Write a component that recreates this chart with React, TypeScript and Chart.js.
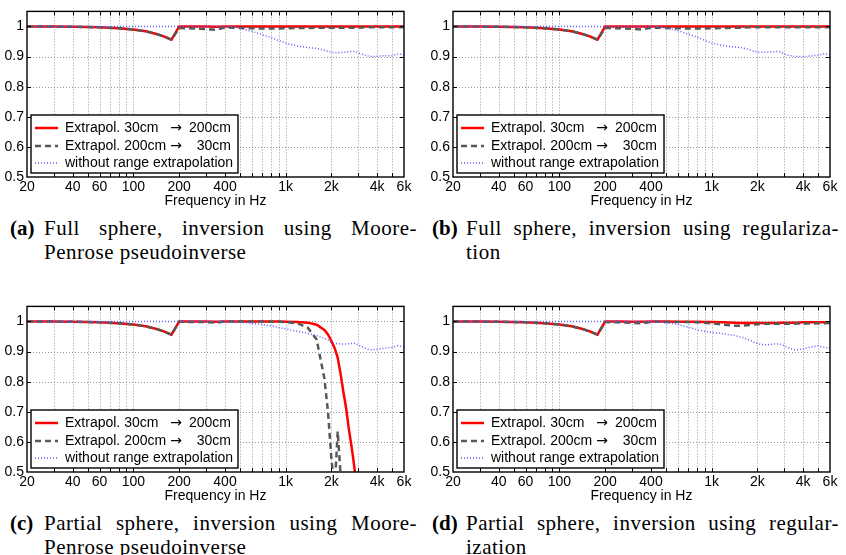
import React, { useEffect, useRef } from 'react';
import { Chart, registerables } from 'chart.js';

Chart.register(...registerables);

// Frequency grid shared by every curve (Hz)
const freqHz = [
  20, 30, 40, 50, 60, 80, 100, 120, 140, 160, 178, 200, 250, 300, 350, 400, 450, 500, 600, 700,
  800, 900, 1000, 1200, 1400, 1600, 1800, 1900, 2000, 2100, 2200, 2300, 2400, 2500, 2600, 2700,
  2800, 2900, 3000, 3300, 3600, 4000, 4500, 5000, 5500, 6000,
];

const xMin = 20;
const xMax = 6000;
const yMin = 0.5;
const yMax = 1.05;

// Grid / tick positions on the frequency axis and their printed labels
const xGridHz = [20, 30, 40, 50, 60, 70, 80, 90, 100, 200, 300, 400, 500, 600, 700, 800, 900, 1000, 2000, 3000, 4000, 5000, 6000];
const xTickText: Record<number, string> = {
  20: '20', 40: '40', 60: '60', 100: '100', 200: '200', 400: '400',
  1000: '1k', 2000: '2k', 4000: '4k', 6000: '6k',
};
const yGrid = [0.5, 0.6, 0.7, 0.8, 0.9, 1];

const seriesNames = ['Extrapol. 30cm → 200cm', 'Extrapol. 200cm → 30cm', 'without range extrapolation'];
const axisTitle = 'Frequency in Hz';

// (a) full sphere, Moore-Penrose pseudoinverse
const fullPinvNearToFar = [
  1.000, 0.9995, 0.999, 0.998, 0.997, 0.994, 0.990, 0.984, 0.976, 0.966, 0.956,
  1.000, 1.000, 1.000, 0.999, 1.000, 1.000, 1.000, 1.000, 1.000, 1.000, 1.000, 1.000, 1.000, 1.000,
  1.000, 1.000, 1.000, 1.000, 1.000, 1.000, 1.000, 1.000, 1.000, 1.000, 1.000, 1.000, 1.000, 1.000,
  1.000, 1.000, 1.000, 1.000, 1.000, 1.000, 1.000,
];
const fullPinvFarToNear = [
  1.000, 0.9995, 0.999, 0.998, 0.997, 0.994, 0.990, 0.984, 0.976, 0.966, 0.956,
  0.995, 0.993, 0.991, 0.989, 0.997, 0.996, 0.995, 0.994, 0.993, 0.993, 0.993, 0.994, 0.995, 0.995,
  0.996, 0.996, 0.996, 0.996, 0.996, 0.996, 0.996, 0.996, 0.996, 0.996, 0.996, 0.996, 0.996, 0.996,
  0.997, 0.997, 0.997, 0.997, 0.997, 0.997, 0.997,
];
const fullPinvPlain = [
  1.000, 1.000, 1.000, 1.000, 1.000, 1.000, 1.000, 1.000, 1.000, 1.000, 1.000,
  1.000, 1.000, 1.000, 1.000, 1.000, 0.999, 0.994, 0.984, 0.973, 0.963, 0.953, 0.945, 0.935, 0.930,
  0.927, 0.921, 0.917, 0.914, 0.913, 0.913, 0.913, 0.914, 0.915, 0.916, 0.917, 0.917, 0.916, 0.912,
  0.905, 0.900, 0.901, 0.903, 0.903, 0.909, 0.906,
];

// (b) full sphere, regularization
const fullRegNearToFar = [
  1.000, 0.9995, 0.999, 0.998, 0.997, 0.994, 0.990, 0.984, 0.976, 0.966, 0.956,
  1.000, 1.000, 1.000, 1.000, 1.000, 1.000, 1.000, 1.000, 1.000, 1.000, 1.000, 1.000, 1.000, 1.000,
  1.000, 1.000, 1.000, 1.000, 1.000, 1.000, 1.000, 1.000, 1.000, 1.000, 1.000, 1.000, 1.000, 1.000,
  1.000, 1.000, 1.000, 1.000, 1.000, 1.000, 1.000,
];
const fullRegFarToNear = [
  1.000, 0.9995, 0.999, 0.998, 0.997, 0.994, 0.990, 0.984, 0.976, 0.966, 0.956,
  0.995, 0.994, 0.992, 0.990, 0.996, 0.996, 0.995, 0.994, 0.993, 0.993, 0.993, 0.994, 0.995, 0.996,
  0.996, 0.997, 0.997, 0.997, 0.997, 0.997, 0.997, 0.997, 0.997, 0.997, 0.997, 0.997, 0.997, 0.997,
  0.997, 0.997, 0.997, 0.997, 0.997, 0.997, 0.997,
];
const fullRegPlain = [
  1.000, 1.000, 1.000, 1.000, 1.000, 1.000, 1.000, 1.000, 1.000, 1.000, 1.000,
  1.000, 1.000, 1.000, 1.000, 1.000, 0.999, 0.995, 0.986, 0.975, 0.965, 0.954, 0.945, 0.936, 0.932,
  0.929, 0.922, 0.918, 0.915, 0.914, 0.914, 0.915, 0.915, 0.916, 0.916, 0.917, 0.916, 0.913, 0.908,
  0.903, 0.900, 0.900, 0.902, 0.905, 0.909, 0.907,
];

// (c) partial sphere, Moore-Penrose pseudoinverse
const partPinvNearToFar = [
  1.000, 0.9995, 0.999, 0.998, 0.997, 0.994, 0.990, 0.984, 0.976, 0.966, 0.956,
  1.000, 1.000, 1.000, 0.999, 1.000, 1.000, 1.000, 1.000, 1.000, 1.000, 1.000, 0.999, 0.998, 0.996,
  0.989, 0.972, 0.957, 0.935, 0.912, 0.880, 0.825, 0.765, 0.712, 0.645, 0.592, 0.535, 0.470, 0.420,
  0.300, 0.200, 0.120, 0.060, 0.030, 0.020, 0.010,
];
const partPinvFarToNear = [
  1.000, 0.9995, 0.999, 0.998, 0.997, 0.994, 0.990, 0.984, 0.976, 0.966, 0.956,
  0.999, 0.998, 0.998, 0.996, 1.000, 1.000, 1.000, 1.000, 1.000, 0.999, 0.999, 0.998, 0.994, 0.979,
  0.940, 0.810, 0.700, 0.545, 0.440, 0.635, 0.490, 0.380, 0.300, 0.250, 0.200, 0.170, 0.150, 0.130,
  0.100, 0.080, 0.060, 0.050, 0.040, 0.030, 0.020,
];
const partPinvPlain = [
  1.000, 1.000, 1.000, 1.000, 1.000, 1.000, 1.000, 1.000, 1.000, 1.000, 1.000,
  1.000, 1.000, 1.000, 1.000, 1.000, 0.999, 0.997, 0.994, 0.990, 0.985, 0.980, 0.975, 0.967, 0.960,
  0.953, 0.944, 0.938, 0.930, 0.927, 0.926, 0.925, 0.925, 0.925, 0.926, 0.927, 0.928, 0.926, 0.922,
  0.912, 0.906, 0.907, 0.912, 0.914, 0.920, 0.916,
];

// (d) partial sphere, regularization
const partRegNearToFar = [
  1.000, 0.9995, 0.999, 0.998, 0.997, 0.994, 0.990, 0.984, 0.976, 0.966, 0.956,
  1.000, 1.000, 0.999, 0.999, 1.000, 1.000, 1.000, 0.999, 0.999, 0.999, 0.998, 0.998, 0.997, 0.996,
  0.995, 0.995, 0.995, 0.995, 0.995, 0.995, 0.995, 0.995, 0.995, 0.995, 0.995, 0.996, 0.996, 0.996,
  0.996, 0.996, 0.997, 0.997, 0.997, 0.997, 0.997,
];
const partRegFarToNear = [
  1.000, 0.9995, 0.999, 0.998, 0.997, 0.994, 0.990, 0.984, 0.976, 0.966, 0.956,
  0.998, 0.997, 0.995, 0.994, 0.999, 0.999, 0.998, 0.998, 0.998, 0.997, 0.996, 0.994, 0.989, 0.986,
  0.986, 0.988, 0.990, 0.991, 0.992, 0.992, 0.992, 0.992, 0.992, 0.992, 0.992, 0.992, 0.992, 0.992,
  0.992, 0.993, 0.993, 0.993, 0.994, 0.994, 0.995,
];
const partRegPlain = [
  1.000, 1.000, 1.000, 1.000, 1.000, 1.000, 1.000, 1.000, 1.000, 1.000, 1.000,
  1.000, 1.000, 1.000, 1.000, 1.000, 0.999, 0.996, 0.990, 0.981, 0.973, 0.967, 0.964, 0.959, 0.954,
  0.947, 0.937, 0.931, 0.927, 0.924, 0.923, 0.923, 0.923, 0.924, 0.925, 0.925, 0.925, 0.923, 0.919,
  0.910, 0.905, 0.909, 0.915, 0.919, 0.914, 0.911,
];

const lineStyles = [
  { color: '#ff0000', width: 2.5, dash: [] as number[], order: 3 },
  { color: '#585858', width: 2.5, dash: [6, 4], order: 2 },
  { color: '#5c5cff', width: 1.5, dash: [1, 2], order: 1 },
];

const sansFont = '"Liberation Sans", Arial, Helvetica, sans-serif';
const arrowFont = '"DejaVu Sans", sans-serif';
const serifFont = '"Liberation Serif", "Times New Roman", serif';

// Dotted grid beneath the curves, then frame, inward ticks and legend on top
const axesFramePlugin = {
  id: 'axesFrame',
  beforeDatasetsDraw(chart: any) {
    const { ctx, chartArea: a } = chart;
    const xs = chart.scales.x;
    const ys = chart.scales.y;
    ctx.save();
    ctx.strokeStyle = '#959595';
    ctx.lineWidth = 1;
    ctx.setLineDash([1, 2]);
    ctx.beginPath();
    for (const v of xGridHz) {
      if (v <= xMin || v >= xMax) continue;
      const px = Math.round(xs.getPixelForValue(v)) + 0.5;
      ctx.moveTo(px, a.top);
      ctx.lineTo(px, a.bottom);
    }
    for (const v of yGrid) {
      if (v <= yMin) continue;
      const py = Math.round(ys.getPixelForValue(v)) + 0.5;
      ctx.moveTo(a.left, py);
      ctx.lineTo(a.right, py);
    }
    ctx.stroke();
    ctx.restore();
  },
  afterDatasetsDraw(chart: any) {
    const { ctx, chartArea: a } = chart;
    const xs = chart.scales.x;
    const ys = chart.scales.y;
    ctx.save();
    ctx.strokeStyle = '#000';
    ctx.lineWidth = 1;
    ctx.setLineDash([]);
    ctx.beginPath();
    const tick = 4;
    for (const v of xGridHz) {
      if (v <= xMin || v >= xMax) continue;
      const px = Math.round(xs.getPixelForValue(v)) + 0.5;
      ctx.moveTo(px, a.bottom);
      ctx.lineTo(px, a.bottom - tick);
      ctx.moveTo(px, a.top);
      ctx.lineTo(px, a.top + tick);
    }
    for (const v of yGrid) {
      if (v <= yMin) continue;
      const py = Math.round(ys.getPixelForValue(v)) + 0.5;
      ctx.moveTo(a.left, py);
      ctx.lineTo(a.left + tick, py);
      ctx.moveTo(a.right, py);
      ctx.lineTo(a.right - tick, py);
    }
    ctx.stroke();
    ctx.lineWidth = 1.4;
    ctx.strokeRect(a.left, a.top, a.right - a.left, a.bottom - a.top);

    // legend box in the lower-left corner of the plot
    const W = 207;
    const H = 58;
    const L = a.left + 4;
    const T = a.bottom - 4 - H;
    ctx.fillStyle = '#fff';
    ctx.fillRect(L, T, W, H);
    ctx.lineWidth = 1.4;
    ctx.strokeStyle = '#000';
    ctx.strokeRect(L, T, W, H);
    const rowOffsets = [13, 31, 48];
    chart.data.datasets.forEach((ds: any, i: number) => {
      const cy = T + rowOffsets[i];
      ctx.save();
      ctx.strokeStyle = ds.borderColor;
      ctx.lineWidth = ds.borderWidth;
      ctx.setLineDash(ds.borderDash || []);
      ctx.beginPath();
      ctx.moveTo(L + 4, cy);
      ctx.lineTo(L + 27, cy);
      ctx.stroke();
      ctx.restore();
      const parts = String(ds.label).split('→').map((s) => s.trim());
      ctx.fillStyle = '#000';
      ctx.textBaseline = 'middle';
      ctx.textAlign = 'left';
      ctx.font = `14px ${sansFont}`;
      ctx.fillText(parts[0], L + 34, cy);
      if (parts.length > 1) {
        ctx.textAlign = 'right';
        ctx.fillText(parts[1], L + 200, cy);
        ctx.textAlign = 'center';
        ctx.font = `14px ${arrowFont}`;
        ctx.fillText('→', L + 145, cy);
      }
    });
    ctx.restore();
  },
};

type PanelProps = {
  left: number;
  top: number;
  captionLeft: number;
  series: number[][];
  tag: string;
  lines: [string, string];
};

function Panel({ left, top, captionLeft, series, tag, lines }: PanelProps) {
  const canvasRef = useRef<HTMLCanvasElement | null>(null);

  useEffect(() => {
    const canvas = canvasRef.current;
    if (!canvas) return;
    const chart = new Chart(canvas, {
      type: 'line',
      data: {
        datasets: series.map((vals, i) => ({
          label: seriesNames[i],
          data: freqHz.map((f, k) => ({ x: f, y: vals[k] })),
          borderColor: lineStyles[i].color,
          borderWidth: lineStyles[i].width,
          borderDash: lineStyles[i].dash,
          order: lineStyles[i].order,
          pointRadius: 0,
          tension: 0,
          fill: false,
        })),
      },
      options: {
        animation: false,
        responsive: false,
        maintainAspectRatio: false,
        events: [],
        layout: { padding: { left: 0, top: 5, right: 19, bottom: 0 } },
        plugins: {
          legend: { display: false },
          tooltip: { enabled: false },
        },
        scales: {
          x: {
            type: 'logarithmic',
            min: xMin,
            max: xMax,
            grid: { display: false, drawTicks: false },
            border: { display: false },
            afterBuildTicks: (scale: any) => {
              scale.ticks = xGridHz.map((v) => ({ value: v }));
            },
            afterFit: (scale: any) => {
              scale.height = 35;
            },
            ticks: {
              autoSkip: false,
              maxRotation: 0,
              minRotation: 0,
              padding: 2,
              color: '#000',
              font: { family: sansFont, size: 14 },
              callback: (value: any) => xTickText[Number(value)] ?? '',
            },
            title: {
              display: true,
              text: axisTitle,
              color: '#000',
              font: { family: sansFont, size: 14 },
              padding: { top: 0, bottom: 2 },
            },
          },
          y: {
            type: 'linear',
            min: yMin,
            max: yMax,
            grid: { display: false, drawTicks: false },
            border: { display: false },
            afterBuildTicks: (scale: any) => {
              scale.ticks = yGrid.map((v) => ({ value: v }));
            },
            afterFit: (scale: any) => {
              scale.width = 27;
            },
            ticks: {
              padding: 3,
              color: '#000',
              font: { family: sansFont, size: 14 },
              callback: (value: any) => (Number(value) === 1 ? '1' : Number(value).toFixed(1)),
            },
          },
        },
      },
      plugins: [axesFramePlugin],
    } as any);
    return () => chart.destroy();
  }, [series]);

  return (
    <>
      <canvas
        ref={canvasRef}
        width={423}
        height={212}
        style={{ position: 'absolute', left, top, width: 423, height: 212 }}
      />
      <div
        style={{
          position: 'absolute',
          left: captionLeft,
          top: top + 216,
          width: 407,
          fontFamily: serifFont,
          fontSize: 21,
          lineHeight: '24px',
          color: '#000',
          letterSpacing: 0.5,
        }}
      >
        <div style={{ display: 'flex' }}>
          <span style={{ fontWeight: 'bold', width: 34, flex: 'none', letterSpacing: 0 }}>{tag}</span>
          <span style={{ flex: 1, textAlign: 'justify', textAlignLast: 'justify', whiteSpace: 'nowrap' }}>{lines[0]}</span>
        </div>
        <div style={{ paddingLeft: 34, whiteSpace: 'nowrap' }}>{lines[1]}</div>
      </div>
    </>
  );
}

const seriesA = [fullPinvNearToFar, fullPinvFarToNear, fullPinvPlain];
const seriesB = [fullRegNearToFar, fullRegFarToNear, fullRegPlain];
const seriesC = [partPinvNearToFar, partPinvFarToNear, partPinvPlain];
const seriesD = [partRegNearToFar, partRegFarToNear, partRegPlain];

export default function App() {
  return (
    <div style={{ position: 'absolute', left: 0, top: 0, width: 846, height: 555, background: '#fff', overflow: 'hidden' }}>
      <Panel left={0} top={0} captionLeft={10} series={seriesA} tag="(a)" lines={['Full sphere, inversion using Moore-', 'Penrose pseudoinverse']} />
      <Panel left={426} top={0} captionLeft={432} series={seriesB} tag="(b)" lines={['Full sphere, inversion using regulariza-', 'tion']} />
      <Panel left={0} top={295} captionLeft={10} series={seriesC} tag="(c)" lines={['Partial sphere, inversion using Moore-', 'Penrose pseudoinverse']} />
      <Panel left={426} top={295} captionLeft={432} series={seriesD} tag="(d)" lines={['Partial sphere, inversion using regular-', 'ization']} />
    </div>
  );
}
